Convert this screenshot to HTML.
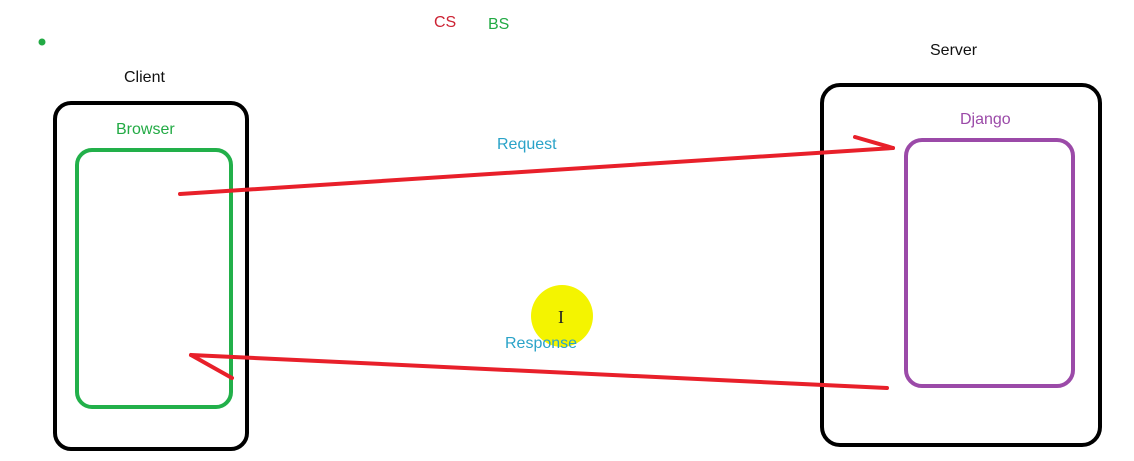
<!DOCTYPE html>
<html><head><meta charset="utf-8"><style>
html,body{margin:0;padding:0;background:#fff;}
svg{display:block;}
text{font-family:"Liberation Sans","Noto Sans CJK SC",sans-serif;font-size:16px;}
</style></head><body>
<svg width="1134" height="461" viewBox="0 0 1134 461">
<rect x="0" y="0" width="1134" height="461" fill="#fff"/>
<circle cx="42" cy="42" r="3.5" fill="#22aa44"/>
<text x="434" y="27" fill="#cc2233">CS</text>
<text x="488" y="29" fill="#22aa44">BS</text>
<text x="124" y="82" fill="#111">Client</text>
<rect x="55" y="103" width="192" height="346" rx="16" fill="none" stroke="#000" stroke-width="4"/>
<text x="116" y="134" fill="#22aa44">Browser</text>
<rect x="77" y="150" width="154" height="257" rx="15" fill="none" stroke="#22b04a" stroke-width="4"/>
<text x="930" y="55" fill="#111">Server</text>
<rect x="822" y="85" width="278" height="360" rx="18" fill="none" stroke="#000" stroke-width="4"/>
<text x="960" y="124" fill="#9b4aa8">Django</text>
<rect x="906" y="140" width="167" height="246" rx="16" fill="none" stroke="#9b4aa8" stroke-width="4"/>
<text x="497" y="149" fill="#2aa3c8">Request</text>
<g stroke="#e8202a" stroke-width="4" stroke-linecap="round" fill="none">
<line x1="180" y1="194" x2="893" y2="148"/>
<line x1="855" y1="137" x2="893" y2="148"/>
</g>
<circle cx="562" cy="316" r="31" fill="#f4f400"/>
<text x="558" y="323" fill="#222" style="font-size:18px;font-family:'Liberation Serif',serif">I</text>
<text x="505" y="348" fill="#2aa3c8">Response</text>
<g stroke="#e8202a" stroke-width="4" stroke-linecap="round" fill="none">
<line x1="887" y1="388" x2="191" y2="355"/>
<line x1="191" y1="355" x2="232" y2="378"/>
</g>
</svg>
</body></html>
